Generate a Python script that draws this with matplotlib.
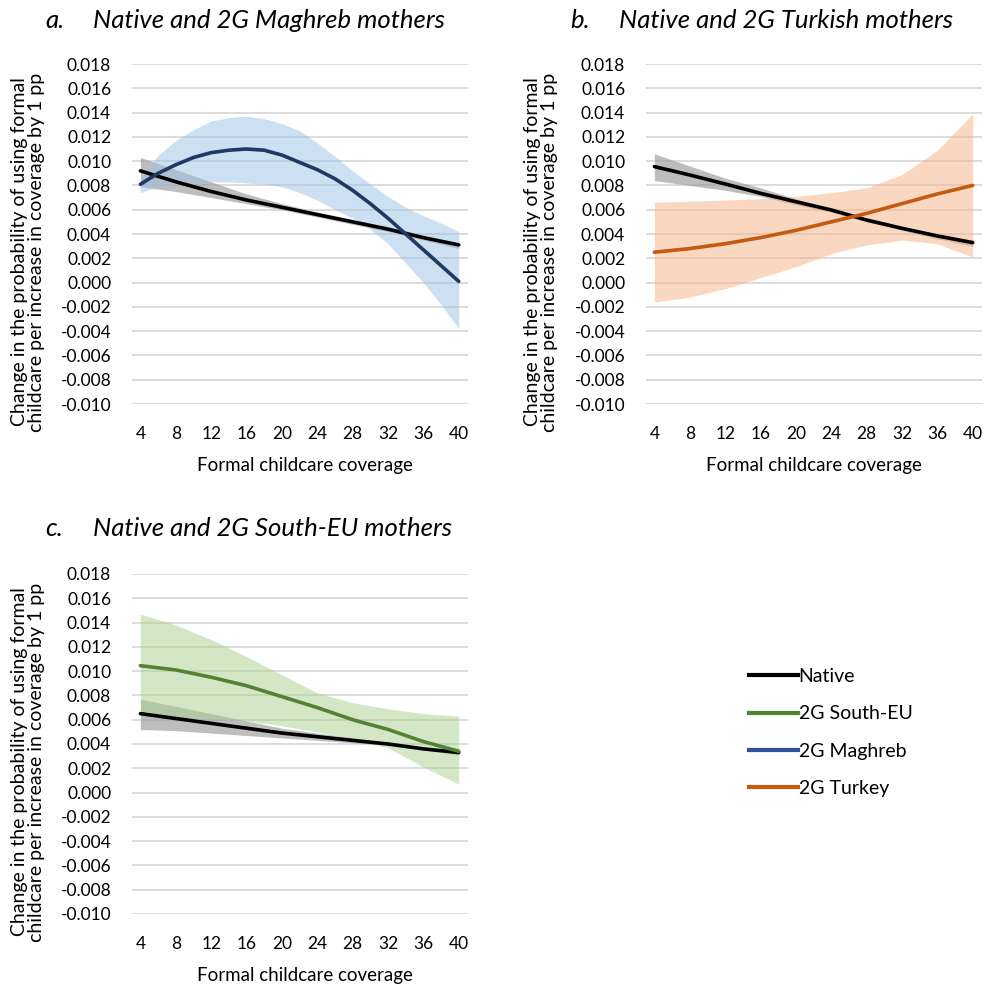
import matplotlib
matplotlib.use("Agg")
import matplotlib.pyplot as plt
from matplotlib.lines import Line2D

plt.rcParams['font.family'] = ['Lato', 'DejaVu Sans']

# ---------------- data ----------------
coverage = [4, 8, 12, 16, 20, 24, 28, 32, 36, 40]
coverage_fine = [4, 6, 8, 10, 12, 14, 16, 18, 20, 22, 24, 26, 28, 30, 32, 34, 36, 38, 40]
x_ticks = [4, 8, 12, 16, 20, 24, 28, 32, 36, 40]
y_ticks = [0.018, 0.016, 0.014, 0.012, 0.010, 0.008, 0.006, 0.004, 0.002, 0.000,
           -0.002, -0.004, -0.006, -0.008, -0.010]

# panel a: Native vs 2G Maghreb
native_a = [0.0092, 0.0083, 0.0075, 0.0068, 0.0062, 0.0056, 0.0050, 0.0044, 0.0037, 0.0031]
native_a_hi = [0.0103, 0.0093, 0.0083, 0.0073, 0.0065, 0.0058, 0.0052, 0.0046, 0.0039, 0.0033]
native_a_lo = [0.0079, 0.0075, 0.0070, 0.0065, 0.0060, 0.0054, 0.0048, 0.0042, 0.0035, 0.0028]
maghreb = [0.0081, 0.0090, 0.0097, 0.0103, 0.0107, 0.0109, 0.0110, 0.0109, 0.0105, 0.0099,
           0.0093, 0.00855, 0.0076, 0.0065, 0.0053, 0.0040, 0.0027, 0.0014, 0.0001]
maghreb_hi = [0.0085, 0.0105, 0.0117, 0.0126, 0.0133, 0.0136, 0.0137, 0.0135, 0.0131, 0.0125,
              0.0115, 0.0104, 0.0092, 0.0081, 0.0071, 0.0062, 0.0055, 0.0049, 0.0042]
maghreb_lo = [0.0074, 0.0079, 0.0081, 0.0082, 0.0083, 0.0083, 0.0082, 0.0081, 0.0079, 0.0074,
              0.0068, 0.0060, 0.0053, 0.0044, 0.0032, 0.0016, 0.0000, -0.0018, -0.0038]

# panel b: Native vs 2G Turkey
native_b = [0.00955, 0.00886, 0.00812, 0.00735, 0.00666, 0.00598, 0.00515, 0.00447, 0.00384, 0.00329]
native_b_hi = [0.0106, 0.0096, 0.0086, 0.0078, 0.0069, 0.0061, 0.0053, 0.0046, 0.0040, 0.0035]
native_b_lo = [0.0084, 0.0080, 0.0076, 0.0071, 0.0064, 0.0058, 0.0050, 0.0043, 0.0036, 0.0030]
turkey = [0.0025, 0.0028, 0.0032, 0.0037, 0.0043, 0.0050, 0.0057, 0.0065, 0.0073, 0.0080]
turkey_hi = [0.0066, 0.0067, 0.0068, 0.0069, 0.0071, 0.0074, 0.0078, 0.0089, 0.0109, 0.0139]
turkey_lo = [-0.0016, -0.0012, -0.0005, 0.0004, 0.0013, 0.0024, 0.0031, 0.0035, 0.0032, 0.0021]

# panel c: Native vs 2G South-EU
native_c = [0.0065, 0.0061, 0.0057, 0.0053, 0.0049, 0.0046, 0.0043, 0.0040, 0.0036, 0.0033]
native_c_hi = [0.0077, 0.0071, 0.0065, 0.0059, 0.0053, 0.0049, 0.0045, 0.0041, 0.0037, 0.0034]
native_c_lo = [0.0052, 0.0051, 0.0049, 0.0047, 0.0045, 0.0043, 0.0041, 0.0039, 0.0035, 0.0031]
southeu = [0.01045, 0.0101, 0.0095, 0.0088, 0.0079, 0.0070, 0.0060, 0.0052, 0.0042, 0.0034]
southeu_hi = [0.0147, 0.0138, 0.0126, 0.0112, 0.0097, 0.0082, 0.0074, 0.0069, 0.0065, 0.0063]
southeu_lo = [0.0064, 0.0062, 0.0061, 0.0059, 0.0055, 0.0050, 0.0044, 0.0037, 0.0021, 0.0007]

titles = ["Native and 2G Maghreb mothers", "Native and 2G Turkish mothers",
          "Native and 2G South-EU mothers"]
letters = ["a.", "b.", "c."]
ylabel = "Change in the probability of using formal\nchildcare per increase in coverage by 1 pp"
xlabel = "Formal childcare coverage"
legend_labels = ["Native", "2G South-EU", "2G Maghreb", "2G Turkey"]

# ---------------- style ----------------
W, H = 989, 984
fig = plt.figure(figsize=(W / 100, H / 100), dpi=100)

NATIVE_C = "#000000"
GRAY_BAND = "#9a9a9a"
colors = {"maghreb": ("#1F3864", "#9DC3E6"),
          "turkey": ("#C55A11", "#F4B183"),
          "southeu": ("#548235", "#A9D18E")}
legend_colors = ["#000000", "#548235", "#2F5597", "#C55A11"]

FS_TICK = 12.5
FS_YLAB = 14
FS_XLAB = 13.5
FS_TITLE = 18.5
FS_LEG = 14


def px_ax(l, t, r, b):
    return [l / W, 1 - b / H, (r - l) / W, (b - t) / H]


def draw_panel(rect, nx, nat, nat_hi, nat_lo, gx, grp, grp_hi, grp_lo, key):
    ax = fig.add_axes(rect)
    line_c, band_c = colors[key]
    ax.fill_between(nx, nat_lo, nat_hi, color=GRAY_BAND, alpha=0.65, lw=0, zorder=2)
    ax.fill_between(gx, grp_lo, grp_hi, color=band_c, alpha=0.5, lw=0, zorder=3)
    ax.plot(nx, nat, color=NATIVE_C, lw=2.6, zorder=5, solid_capstyle='round')
    ax.plot(gx, grp, color=line_c, lw=2.6, zorder=5, solid_capstyle='round')
    ax.set_xlim(3.05, 41.05)
    ax.set_ylim(-0.010, 0.018)
    ax.set_xticks(x_ticks)
    ax.set_xticklabels([str(v) for v in x_ticks], fontsize=FS_TICK)
    ax.set_yticks(y_ticks)
    ax.set_yticklabels([f"{v:.3f}".replace("-0.000", "0.000") for v in y_ticks], fontsize=FS_TICK)
    ax.tick_params(axis='both', length=0)
    ax.tick_params(axis='y', pad=15)
    ax.tick_params(axis='x', pad=16)
    ax.grid(axis='y', color='#D9D9D9', lw=1.3, zorder=0)
    ax.set_axisbelow(True)
    for s in ax.spines.values():
        s.set_visible(False)
    ax.set_facecolor('none')
    return ax


draw_panel(px_ax(132, 64, 468, 404), coverage, native_a, native_a_hi, native_a_lo,
           coverage_fine, maghreb, maghreb_hi, maghreb_lo, "maghreb")
draw_panel(px_ax(646, 64, 982, 404), coverage, native_b, native_b_hi, native_b_lo,
           coverage, turkey, turkey_hi, turkey_lo, "turkey")
draw_panel(px_ax(132, 574, 468, 914), coverage, native_c, native_c_hi, native_c_lo,
           coverage, southeu, southeu_hi, southeu_lo, "southeu")


def ftext(x, y, s, **kw):
    fig.text(x / W, 1 - y / H, s, **kw)


# titles
for (lx, tx, ty), letter, title in zip([(45, 93, 20), (570, 619, 20), (45, 93, 528)], letters, titles):
    ftext(lx, ty, letter, fontsize=FS_TITLE, style='italic', ha='left', va='center')
    ftext(tx, ty, title, fontsize=FS_TITLE, style='italic', ha='left', va='center')

# y labels
for (cx, cy) in [(28, 252), (541, 252), (28, 762)]:
    ftext(cx, cy, ylabel, fontsize=FS_YLAB, rotation=90, ha='center', va='center',
          multialignment='center', linespacing=1.05)

# x labels
for (cx, cy) in [(305, 465), (814, 465), (305, 975)]:
    ftext(cx, cy, xlabel, fontsize=FS_XLAB, ha='center', va='center')

# legend
handles = [Line2D([0], [0], color=c, lw=3) for c in legend_colors]
fig.legend(handles, legend_labels, loc='upper left',
           bbox_to_anchor=(749 / W, 1 - 668 / H), frameon=False,
           fontsize=FS_LEG, handlelength=2.5, handletextpad=0.05,
           labelspacing=1.05, borderaxespad=0, borderpad=0)

fig.savefig("out.png", dpi=100, facecolor='white')
